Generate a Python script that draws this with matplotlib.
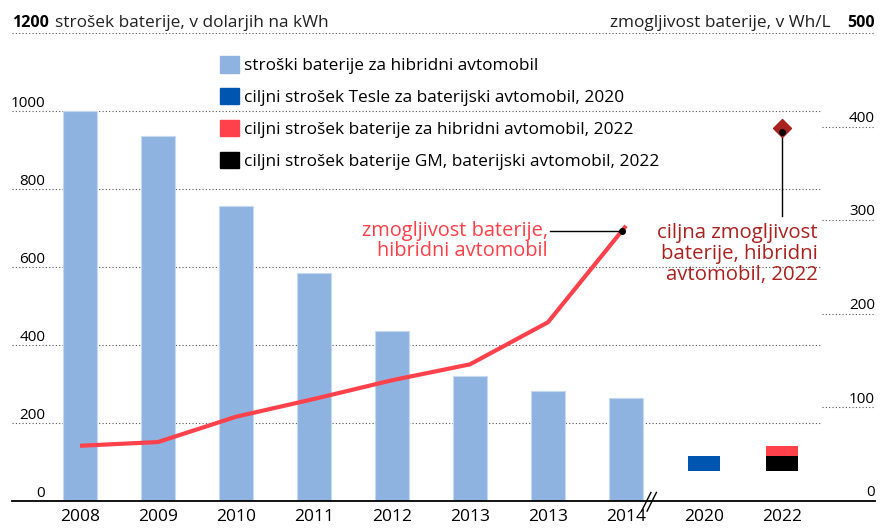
import matplotlib.pyplot as plt
from matplotlib.patches import Patch
from matplotlib.transforms import offset_copy

plt.rcParams['font.family'] = ['Open Sans', 'DejaVu Sans']

# data
years = ['2008', '2009', '2010', '2011', '2012', '2013', '2013', '2014', '2020', '2022']
hybrid_cost = [1000, 936, 756, 585, 436, 320, 282, 264]          # $/kWh
hybrid_capacity = [59, 63, 90, 109, 129, 146, 191, 294]          # Wh/L
tesla_target_2020 = (78, 115)       # $/kWh range
hybrid_target_2022 = (115, 141)
gm_target_2022 = (78, 115)
capacity_target_2022 = 398          # Wh/L
left_ticks = [0, 200, 400, 600, 800, 1000]
right_ticks = [0, 100, 200, 300, 400]

c_bar = '#8fb3e0'
c_tesla = '#0055b0'
c_red = '#ff414b'
c_dark = '#a8221f'
fs = 12.4

fig = plt.figure(figsize=(8.9, 5.31), dpi=100)
W, H = 890, 531
ax = fig.add_axes([12 / W, 30 / H, 863 / W, 468 / H])
ax.set_xlim((12 - 80) / 78, (875 - 80) / 78)
ax.set_ylim(0, 1200)
ax2 = ax.twinx()
ax2.set_ylim(0, 500)

for a in (ax, ax2):
    for s in a.spines.values():
        s.set_visible(False)
    a.set_yticks([])
ax.spines['bottom'].set_visible(True)
ax.spines['bottom'].set_linewidth(1.3)
ax.spines['bottom'].set_zorder(5)

# grid: long dotted lines for left scale, short stubs for right scale
grid_end = (820 - 12) / 863
for v in left_ticks[1:]:
    ax.axhline(v, xmin=0, xmax=grid_end, color='#555555', lw=0.8,
               ls=(0, (1, 2)), zorder=0)
ax.axhline(1200, color='#555555', lw=0.8, ls=(0, (1, 2)), zorder=0)
for v in left_ticks:
    ax.annotate(str(v), (0, v), xycoords=('axes fraction', 'data'),
                xytext=(24, 3), textcoords='offset points',
                ha='right', va='baseline', fontsize=11)
for v in right_ticks:
    if v > 0:
        ax2.axhline(v, xmin=(822 - 12) / 863, xmax=1, color='#555555', lw=0.8,
                    ls=(0, (1, 2)), zorder=0)
    ax2.annotate(str(v), (1, v), xycoords=('axes fraction', 'data'),
                 xytext=(0, 3.5), textcoords='offset points',
                 ha='right', va='baseline', fontsize=11)

# header labels
fig.text(12 / W, 1 - 27 / H, '1200', fontsize=11.5, fontweight='bold',
         va='baseline')
fig.text(55 / W, 1 - 27 / H, 'strošek baterije, v dolarjih na kWh',
         fontsize=fs, color='#222222', va='baseline')
fig.text(875 / W, 1 - 27 / H, '500', fontsize=11.5, fontweight='bold',
         va='baseline', ha='right')
fig.text(831 / W, 1 - 27 / H, 'zmogljivost baterije, v Wh/L',
         fontsize=fs, color='#222222', va='baseline', ha='right')

# bars
x = list(range(len(hybrid_cost)))
ax.bar(x, hybrid_cost, width=0.44, color=c_bar, edgecolor='#c7d9f0',
       linewidth=0.8, zorder=2)
ax.bar(8, tesla_target_2020[1] - tesla_target_2020[0],
       bottom=tesla_target_2020[0], width=0.4, color=c_tesla, zorder=2)
ax.bar(9, gm_target_2022[1] - gm_target_2022[0], bottom=gm_target_2022[0],
       width=0.4, color='black', zorder=2)
ax.bar(9, hybrid_target_2022[1] - hybrid_target_2022[0],
       bottom=hybrid_target_2022[0], width=0.4, color=c_red, zorder=2)

ax.set_xticks(range(len(years)))
ax.set_xticklabels(years, fontsize=12.5)
ax.tick_params(axis='x', length=0, pad=6)

# axis break
for dx in (-0.07, 0.0):
    ax.plot([7.27 + dx, 7.39 + dx], [-26, 22], color='black', lw=1,
            clip_on=False, zorder=6)

# capacity line
ax2.plot(x, hybrid_capacity, color=c_red, lw=3, zorder=3,
         solid_capstyle='butt')
t = 0.95
dot_x = x[-2] + t * (x[-1] - x[-2])
dot_y = hybrid_capacity[-2] + t * (hybrid_capacity[-1] - hybrid_capacity[-2])
ax2.plot([6.03, dot_x], [dot_y, dot_y], color='black', lw=1, zorder=4)
ax2.plot(dot_x, dot_y, 'o', color='black', ms=4, zorder=5)
ax2.text(6.0, dot_y, 'zmogljivost baterije,\nhibridni avtomobil',
         color=c_red, fontsize=14.4, ha='right', va='top',
         linespacing=1.05, transform=offset_copy(ax2.transData, fig=fig,
                                                 y=10, units='dots'))

# 2022 target
ax2.plot([9, 9], [305, capacity_target_2022], color='black', lw=1, zorder=4)
ax2.plot(9, capacity_target_2022, 'D', color=c_dark, ms=9, zorder=5)
ax2.plot(9, capacity_target_2022 - 4, 'o', color='black', ms=4, zorder=6)
ax2.text(9.46, 297, 'ciljna zmogljivost\nbaterije, hibridni\navtomobil, 2022',
         color=c_dark, fontsize=14.7, ha='right', va='top', linespacing=1.05)

handles = [Patch(color=c_bar), Patch(color=c_tesla), Patch(color=c_red),
           Patch(color='black')]
labels = ['stroški baterije za hibridni avtomobil',
          'ciljni strošek Tesle za baterijski avtomobil, 2020',
          'ciljni strošek baterije za hibridni avtomobil, 2022',
          'ciljni strošek baterije GM, baterijski avtomobil, 2022']
fig.legend(handles, labels, loc='upper left',
           bbox_to_anchor=(220 / W, 1 - 56 / H), frameon=False, fontsize=fs,
           handlelength=1.1, handleheight=1.1, handletextpad=0.3,
           labelspacing=0.8, borderpad=0, borderaxespad=0)

fig.savefig('out.png', dpi=100)
